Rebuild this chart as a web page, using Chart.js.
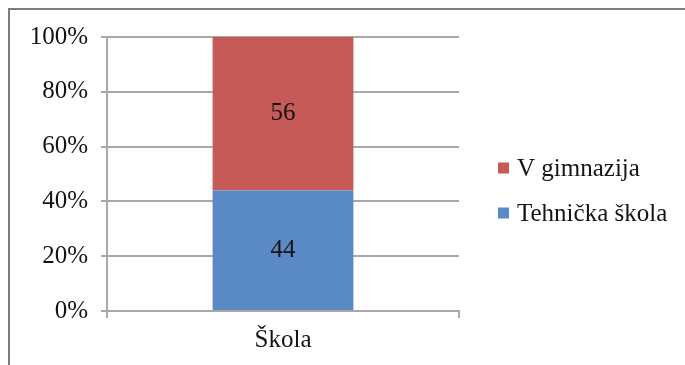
<!DOCTYPE html>
<html>
<head>
<meta charset="utf-8">
<script src="https://cdn.jsdelivr.net/npm/chart.js@4/dist/chart.umd.min.js"></script>
<style>
  html, body { margin: 0; padding: 0; background: #fff; }
  #wrap { position: relative; width: 685px; height: 365px; overflow: hidden; }
  #frame { position: absolute; left: 8px; top: 8px; width: 700px; height: 400px;
           border-top: 2px solid #7d7d7d; border-left: 2px solid #7d7d7d; }
  canvas { position: absolute; left: 0; top: 0; }
</style>
</head>
<body>
<div id="wrap">
  <div id="frame"></div>
  <canvas id="c" width="685" height="365" style="width:685px;height:365px"></canvas>
</div>
<script>
// Share of students by school (percent, stacked to 100%)
const categories = ['Škola'];
const seriesNames = ['Tehnička škola', 'V gimnazija'];
const tehnickaSkola = [44];
const vGimnazija = [56];
const seriesColors = ['#5A8AC6', '#C55A56'];
const yTickValues = [0, 20, 40, 60, 80, 100];

const FONT = "'Liberation Serif', 'Times New Roman', serif";
const FONT_SIZE = 25;
const TEXT = '#141414';
const GRID = '#a8a8a8';

// value labels centred inside each stacked segment
const segmentLabels = {
  id: 'segmentLabels',
  afterDatasetsDraw(chart) {
    const ctx = chart.ctx;
    ctx.save();
    ctx.font = FONT_SIZE + 'px ' + FONT;
    ctx.fillStyle = TEXT;
    ctx.textAlign = 'center';
    ctx.textBaseline = 'middle';
    chart.data.datasets.forEach((ds, di) => {
      chart.getDatasetMeta(di).data.forEach((bar, i) => {
        const y = (bar.y + bar.base) / 2;
        ctx.fillText(String(ds.data[i]), bar.x, y);
      });
    });
    ctx.restore();
  }
};

// legend on the right, top entry = top segment
const sideLegend = {
  id: 'sideLegend',
  afterDraw(chart) {
    const ctx = chart.ctx;
    const items = chart.data.datasets.slice().reverse();
    ctx.save();
    ctx.font = FONT_SIZE + 'px ' + FONT;
    ctx.textAlign = 'left';
    ctx.textBaseline = 'middle';
    items.forEach((ds, i) => {
      const cy = 168 + i * 45;
      ctx.fillStyle = ds.backgroundColor;
      ctx.fillRect(498, cy - 5.5, 11, 11);
      ctx.fillStyle = TEXT;
      ctx.fillText(ds.label, 517, cy + 1);
    });
    ctx.restore();
  }
};

new Chart(document.getElementById('c'), {
  type: 'bar',
  data: {
    labels: categories,
    datasets: [
      { label: seriesNames[0], data: tehnickaSkola, backgroundColor: seriesColors[0] },
      { label: seriesNames[1], data: vGimnazija, backgroundColor: seriesColors[1] }
    ]
  },
  options: {
    responsive: false,
    animation: false,
    layout: { padding: { left: 0, top: 37, right: 226, bottom: 0 } },
    datasets: { bar: { barPercentage: 0.4, categoryPercentage: 1.0 } },
    plugins: { legend: { display: false }, tooltip: { enabled: false } },
    scales: {
      x: {
        stacked: true,
        afterFit(scale) { scale.height = 54; },
        grid: { offset: true, drawOnChartArea: false, drawTicks: true, tickLength: 7,
                color: GRID, lineWidth: 2 },
        border: { display: true, color: GRID, width: 2 },
        ticks: { font: { family: FONT, size: FONT_SIZE }, color: TEXT, padding: 7 }
      },
      y: {
        stacked: true,
        min: 0,
        max: 100,
        afterFit(scale) { scale.width = 107; },
        afterBuildTicks(scale) { scale.ticks = yTickValues.map(v => ({ value: v })); },
        grid: { color: GRID, lineWidth: 2, drawTicks: true, tickLength: 6 },
        border: { display: true, color: GRID, width: 2 },
        ticks: {
          font: { family: FONT, size: FONT_SIZE }, color: TEXT, padding: 13,
          callback: v => v + '%'
        }
      }
    }
  },
  plugins: [segmentLabels, sideLegend]
});
</script>
</body>
</html>
